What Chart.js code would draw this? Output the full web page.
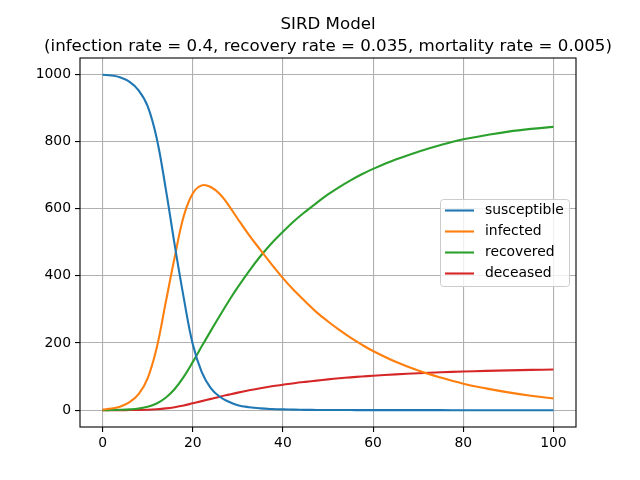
<!DOCTYPE html>
<html>
<head>
<meta charset="utf-8">
<title>SIRD Model</title>
<script src="https://cdn.jsdelivr.net/npm/chart.js@4"></script>
<style>
  body { margin: 0; background: #fff; }
  canvas { display: block; }
</style>
</head>
<body>
<canvas id="graficoSIRD" width="640" height="480"></canvas>
<script>
//  Datos
const dias = [0, 2, 4, 6, 8, 10, 12, 14, 16, 18, 20, 22, 24, 26, 28, 30, 32.5, 35, 37.5, 40, 42.5, 45, 47.5, 50, 52.5, 55, 57.5, 60, 65, 70, 75, 80, 85, 90, 95, 100];
const susceptibles = [998, 996, 990, 977, 952, 905, 810, 660, 492, 335, 197, 113, 66, 40, 25, 15, 9, 5.5, 3.5, 2.3, 1.6, 1.1, 0.8, 0.6, 0.5, 0.4, 0.3, 0.25, 0.2, 0.1, 0.1, 0, 0, 0, 0, 0];
const infectados = [2, 5, 11, 24, 48, 95, 185, 320, 455, 577, 645, 669, 664, 643, 609, 569, 521, 477, 434, 393, 356, 323, 291, 264, 239, 216, 195, 176, 144, 118, 97, 79, 65, 53, 43, 35];
const recuperados = [0, 0.5, 1.2, 2.5, 5, 10, 20, 37, 63, 99, 143, 190, 236, 281, 325, 366, 414, 458, 497, 531, 563, 591, 617, 642, 664, 684, 702, 718, 746, 769, 789, 806, 818, 829, 837, 843];
const fallecidos = [0, 0.1, 0.2, 0.4, 0.7, 1.4, 2.9, 5.3, 9, 14, 20.5, 27, 33.7, 40.3, 46.4, 52.3, 59.1, 65.4, 71, 75.8, 80.4, 84.4, 88.1, 91.7, 94.9, 97.7, 100.3, 102.6, 106.6, 109.9, 112.7, 115, 117, 118.6, 119.9, 120.9];
const ticksX = [0, 20, 40, 60, 80, 100];
const ticksY = [0, 200, 400, 600, 800, 1000];
const titulo = ["SIRD Model", "(infection rate = 0.4, recovery rate = 0.035, mortality rate = 0.005)"];

const series = [
  { label: "susceptible", valores: susceptibles, color: "#1f77b4" },
  { label: "infected", valores: infectados, color: "#ff7f0e" },
  { label: "recovered", valores: recuperados, color: "#2ca02c" },
  { label: "deceased", valores: fallecidos, color: "#d62728" }
];

//  Título, marco de los ejes y leyenda estilo matplotlib
const marcoLeyenda = {
  id: "marcoLeyenda",
  afterDraw(chart) {
    const ctx = chart.ctx;
    const a = chart.chartArea;
    ctx.save();

    // título centrado sobre el área de los ejes
    ctx.fillStyle = "#000";
    ctx.font = "16.67px 'DejaVu Sans'";
    ctx.textAlign = "center";
    ctx.textBaseline = "alphabetic";
    const centro = (a.left + a.right) / 2;
    ctx.fillText(titulo[0], centro, 29);
    ctx.fillText(titulo[1], centro, 50.7);

    // marco
    ctx.strokeStyle = "#000";
    ctx.lineWidth = 1.1;
    ctx.strokeRect(a.left, a.top, a.right - a.left, a.bottom - a.top);

    // leyenda
    const anchoCaja = 129, altoCaja = 87, fila = 21;
    const x0 = a.right - 7 - anchoCaja;
    const y0 = (a.top + a.bottom) / 2 - altoCaja / 2;
    ctx.beginPath();
    ctx.roundRect(x0 + 0.5, y0 + 0.5, anchoCaja, altoCaja, 3);
    ctx.fillStyle = "rgba(255,255,255,0.8)";
    ctx.fill();
    ctx.strokeStyle = "#cccccc";
    ctx.lineWidth = 1;
    ctx.stroke();

    ctx.font = "13.9px 'DejaVu Sans'";
    ctx.textAlign = "left";
    ctx.textBaseline = "middle";
    chart.data.datasets.forEach((ds, i) => {
      const y = y0 + 11.5 + i * fila;
      ctx.beginPath();
      ctx.moveTo(x0 + 5, y);
      ctx.lineTo(x0 + 34, y);
      ctx.strokeStyle = ds.borderColor;
      ctx.lineWidth = 2.1;
      ctx.stroke();
      ctx.fillStyle = "#000";
      ctx.fillText(ds.label, x0 + 45, y);
    });
    ctx.restore();
  }
};

window.addEventListener("DOMContentLoaded", () => {
  Chart.defaults.font.family = "'DejaVu Sans'";
  Chart.defaults.color = "#000";

  const ctx = document.getElementById("graficoSIRD").getContext("2d");

  new Chart(ctx, {
    type: "line",
    data: {
      datasets: series.map(s => ({
        label: s.label,
        data: dias.map((d, i) => ({ x: d, y: s.valores[i] })),
        borderColor: s.color,
        backgroundColor: s.color,
        borderWidth: 2.1,
        pointRadius: 0,
        fill: false,
        tension: 0.4
      }))
    },
    options: {
      responsive: false,
      animation: false,
      devicePixelRatio: 1,
      layout: { padding: { left: 0, right: 64, top: 58, bottom: 0 } },
      plugins: {
        legend: { display: false },
        tooltip: { enabled: false },
        title: { display: false }
      },
      scales: {
        x: {
          type: "linear",
          min: -5,
          max: 105,
          afterBuildTicks: scale => { scale.ticks = ticksX.map(v => ({ value: v })); },
          afterFit: scale => { scale.height = 53; },
          border: { display: false },
          grid: { color: "#b0b0b0", lineWidth: 1.1, tickColor: "#000", tickLength: 5 },
          ticks: { font: { size: 13.9 }, color: "#000", padding: 3, maxRotation: 0, callback: v => String(v) }
        },
        y: {
          type: "linear",
          min: -50,
          max: 1048,
          afterBuildTicks: scale => { scale.ticks = ticksY.map(v => ({ value: v })); },
          afterFit: scale => { scale.width = 80; },
          border: { display: false },
          grid: { color: "#b0b0b0", lineWidth: 1.1, tickColor: "#000", tickLength: 5 },
          ticks: { font: { size: 13.9 }, color: "#000", padding: 4, callback: v => String(v) }
        }
      }
    },
    plugins: [marcoLeyenda]
  });
});
</script>
</body>
</html>
